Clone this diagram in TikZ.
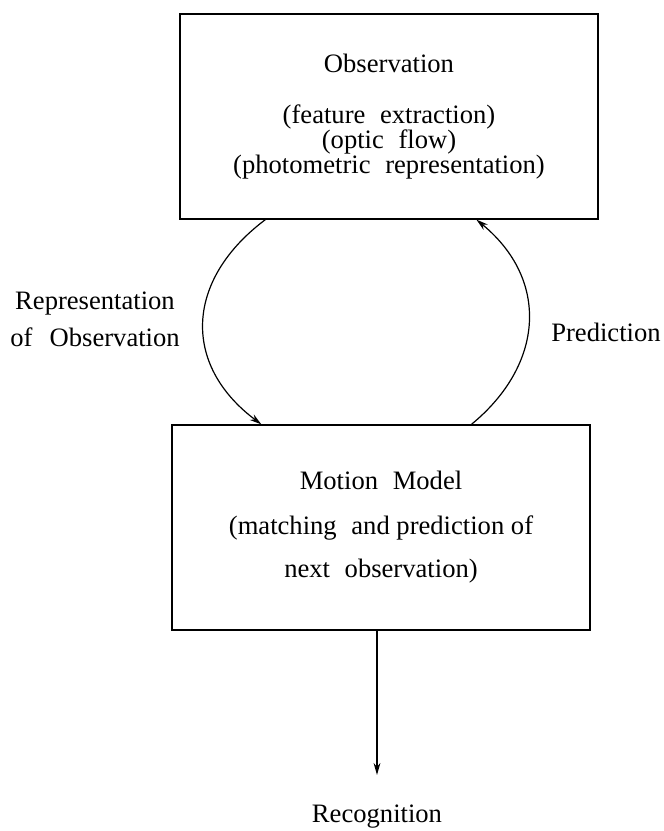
\documentclass[tikz,border=0pt]{standalone}
\usepackage{fontspec}
\setmainfont{Liberation Serif}
\usetikzlibrary{arrows.meta,calc}
\newcommand{\wsp}{\hspace{0.55em}}
\begin{document}
\begin{tikzpicture}[x=0.5pt,y=-0.5pt,
  every node/.style={font=\fontsize{13.3}{12.5}\selectfont, inner sep=0pt},
  box/.style={draw, line width=0.6pt, rectangle, align=center,
    minimum width=209pt, minimum height=102.5pt},
  link/.style={line width=0.6pt, -{Stealth[length=6pt,width=3.4pt]}},
  lbl/.style={align=center}]
\useasboundingbox (0,0) rectangle (664,831);

% the two processing stages
\node[box] (obs) at (389,116.5)
  {Observation\\[13pt]
   (feature\wsp extraction)\\
   (optic\wsp flow)\\
   (photometric\wsp representation)};
\node[box] (mm) at (381,527.5)
  {Motion\wsp Model\\[10pt]
   (matching\wsp and prediction of\\[9pt]
   next\wsp observation)};

% labels
\node[lbl] (rep) at (95,319) {Representation\\[6pt] of\hspace{0.4em} Observation};
\node[lbl] (pred) at (606,332) {Prediction};
\node[lbl] (rec) at (377,817) {Recognition};

% end points of the loop on the box edges
\coordinate (obsL) at ($(obs.south west)+(86,0)$);
\coordinate (obsR) at ($(obs.south west)+(297,0)$);
\coordinate (mmL)  at ($(mm.north west)+(90,0)$);
\coordinate (mmR)  at ($(mm.north west)+(300,0)$);

% observation -> motion model (left), prediction back up (right)
\draw[link] (obsL) .. controls ($(obsL)+(-80,60)$) and ($(mmL)+(-80,-60)$) .. (mmL);
\draw[link] (mmR) .. controls ($(mmR)+(73,-60)$) and ($(obsR)+(73,60)$) .. (obsR);

% output of the motion model
\draw[link] (mm.south -| rec.north) -- ($(rec.north)+(0,-30)$);
\end{tikzpicture}
\end{document}
